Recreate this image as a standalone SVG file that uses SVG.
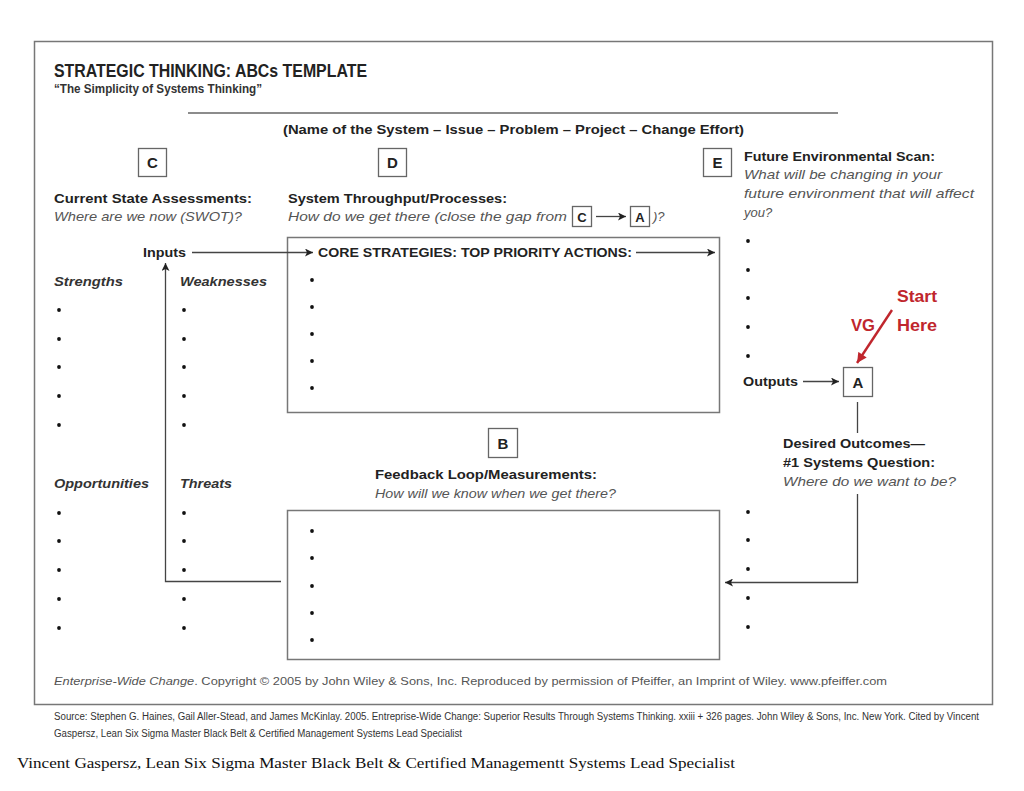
<svg xmlns="http://www.w3.org/2000/svg" width="1024" height="791" viewBox="0 0 1024 791">
<defs>
<marker id="ah" viewBox="0 0 10 10" refX="10" refY="5" markerWidth="10" markerHeight="8" markerUnits="userSpaceOnUse" orient="auto">
<path d="M0,0 L10,5 L0,10 L2.5,5 Z" fill="#222"/>
</marker>
<marker id="ahr" viewBox="0 0 10 10" refX="10" refY="5" markerWidth="11" markerHeight="10" markerUnits="userSpaceOnUse" orient="auto">
<path d="M0,0 L10,5 L0,10 Z" fill="#c0262d"/>
</marker>
<style>
text{font-family:"Liberation Sans",Arial,sans-serif;}
.b{font-weight:bold;fill:#222;font-size:13px;}
.i{font-style:italic;fill:#555;font-size:13px;}
.bi{font-style:italic;font-weight:bold;fill:#333;font-size:13px;}
.box{fill:#fff;stroke:#666;stroke-width:1.3;}
.lt{font-weight:bold;fill:#222;font-size:15px;text-anchor:middle;}
.ln{fill:none;stroke:#444;stroke-width:1.3;}
.bul{fill:#111;}
.red{fill:#c0262d;font-weight:bold;font-size:16px;}
</style>
</defs>
<rect width="1024" height="791" fill="#fff"/>
<rect x="34.5" y="41.5" width="958" height="663" fill="#fff" stroke="#777" stroke-width="1.5"/>

<g id="header">
<text x="54" y="77" font-size="18" font-weight="bold" fill="#222" textLength="313" lengthAdjust="spacingAndGlyphs">STRATEGIC THINKING: ABCs TEMPLATE</text>
<text x="54" y="93" font-size="12" font-weight="bold" fill="#333" textLength="208" lengthAdjust="spacingAndGlyphs">“The Simplicity of Systems Thinking”</text>
<line x1="188" y1="113" x2="838" y2="113" stroke="#666" stroke-width="1.3"/>
<text x="283" y="134" class="b" textLength="461" lengthAdjust="spacingAndGlyphs">(Name of the System – Issue – Problem – Project – Change Effort)</text>
</g>

<g id="nodeC">
<rect x="138.5" y="148.5" width="28" height="28" class="box"/>
<text x="152.5" y="168" class="lt">C</text>
<text x="54" y="203" class="b" textLength="198" lengthAdjust="spacingAndGlyphs">Current State Assessments:</text>
<text x="54" y="221" class="i" textLength="188" lengthAdjust="spacingAndGlyphs">Where are we now (SWOT)?</text>
</g>

<g id="nodeD">
<rect x="378.5" y="148.5" width="28" height="28" class="box"/>
<text x="392.5" y="168" class="lt">D</text>
<text x="288" y="203" class="b" textLength="219" lengthAdjust="spacingAndGlyphs">System Throughput/Processes:</text>
<text x="288" y="221" class="i" textLength="279" lengthAdjust="spacingAndGlyphs">How do we get there (close the gap from</text>
<rect x="572.5" y="206.5" width="19" height="20" class="box"/>
<text x="582" y="221.5" font-size="13" font-weight="bold" fill="#222" text-anchor="middle">C</text>
<line x1="596" y1="216.5" x2="626" y2="216.5" class="ln" marker-end="url(#ah)"/>
<rect x="630.5" y="206.5" width="19" height="20" class="box"/>
<text x="640" y="221.5" font-size="13" font-weight="bold" fill="#222" text-anchor="middle">A</text>
<text x="653" y="221" class="i">)?</text>
</g>

<g id="nodeE">
<rect x="703.5" y="148.5" width="28" height="28" class="box"/>
<text x="717.5" y="168" class="lt">E</text>
<text x="744" y="161" class="b" textLength="191" lengthAdjust="spacingAndGlyphs">Future Environmental Scan:</text>
<text x="744" y="179" class="i" textLength="198" lengthAdjust="spacingAndGlyphs">What will be changing in your</text>
<text x="744" y="198" class="i" textLength="230" lengthAdjust="spacingAndGlyphs">future environment that will affect</text>
<text x="744" y="217" class="i">you?</text>
<g class="bul">
<circle cx="748" cy="241" r="1.9"/><circle cx="748" cy="270" r="1.9"/><circle cx="748" cy="298" r="1.9"/><circle cx="748" cy="327" r="1.9"/><circle cx="748" cy="356" r="1.9"/>
<circle cx="748" cy="512" r="1.9"/><circle cx="748" cy="540" r="1.9"/><circle cx="748" cy="569" r="1.9"/><circle cx="748" cy="598" r="1.9"/><circle cx="748" cy="627" r="1.9"/>
</g>
</g>

<g id="swot">
<text x="54" y="286" class="bi" textLength="69" lengthAdjust="spacingAndGlyphs">Strengths</text>
<text x="180" y="286" class="bi" textLength="87" lengthAdjust="spacingAndGlyphs">Weaknesses</text>
<text x="54" y="488" class="bi" textLength="95" lengthAdjust="spacingAndGlyphs">Opportunities</text>
<text x="180" y="488" class="bi" textLength="52" lengthAdjust="spacingAndGlyphs">Threats</text>
<g class="bul">
<circle cx="59" cy="310" r="1.9"/><circle cx="59" cy="339" r="1.9"/><circle cx="59" cy="367" r="1.9"/><circle cx="59" cy="396" r="1.9"/><circle cx="59" cy="425" r="1.9"/>
<circle cx="184" cy="310" r="1.9"/><circle cx="184" cy="339" r="1.9"/><circle cx="184" cy="367" r="1.9"/><circle cx="184" cy="396" r="1.9"/><circle cx="184" cy="425" r="1.9"/>
<circle cx="59" cy="513" r="1.9"/><circle cx="59" cy="541" r="1.9"/><circle cx="59" cy="570" r="1.9"/><circle cx="59" cy="599" r="1.9"/><circle cx="59" cy="628" r="1.9"/>
<circle cx="184" cy="513" r="1.9"/><circle cx="184" cy="541" r="1.9"/><circle cx="184" cy="570" r="1.9"/><circle cx="184" cy="599" r="1.9"/><circle cx="184" cy="628" r="1.9"/>
</g>
</g>

<g id="inputs">
<text x="143" y="257" class="b" textLength="43" lengthAdjust="spacingAndGlyphs">Inputs</text>
</g>

<g id="core">
<rect x="287.5" y="237.5" width="432" height="175" fill="none" stroke="#777" stroke-width="1.5"/>
<text x="318" y="257" class="b" textLength="314" lengthAdjust="spacingAndGlyphs">CORE STRATEGIES: TOP PRIORITY ACTIONS:</text>
<g class="bul">
<circle cx="312" cy="280" r="1.9"/><circle cx="312" cy="307" r="1.9"/><circle cx="312" cy="334" r="1.9"/><circle cx="312" cy="361" r="1.9"/><circle cx="312" cy="388" r="1.9"/>
</g>
</g>

<g id="nodeB">
<rect x="488.5" y="428.5" width="29" height="29" class="box"/>
<text x="503" y="448.5" class="lt">B</text>
<text x="375" y="479" class="b" textLength="222" lengthAdjust="spacingAndGlyphs">Feedback Loop/Measurements:</text>
<text x="375" y="498" class="i" textLength="241" lengthAdjust="spacingAndGlyphs">How will we know when we get there?</text>
</g>

<g id="feedback">
<rect x="287.5" y="510.5" width="432" height="149" fill="none" stroke="#777" stroke-width="1.5"/>
<g class="bul">
<circle cx="312" cy="531" r="1.9"/><circle cx="312" cy="558" r="1.9"/><circle cx="312" cy="586" r="1.9"/><circle cx="312" cy="613" r="1.9"/><circle cx="312" cy="640" r="1.9"/>
</g>
</g>

<g id="nodeA">
<text x="743" y="386" class="b" textLength="55" lengthAdjust="spacingAndGlyphs">Outputs</text>
<rect x="843.5" y="367.5" width="29" height="29" class="box"/>
<text x="858" y="388" class="lt">A</text>
<text x="783" y="448" class="b" textLength="142" lengthAdjust="spacingAndGlyphs">Desired Outcomes—</text>
<text x="783" y="467" class="b" textLength="152" lengthAdjust="spacingAndGlyphs">#1 Systems Question:</text>
<text x="783" y="486" class="i" textLength="173" lengthAdjust="spacingAndGlyphs">Where do we want to be?</text>
</g>

<g id="annotation">
<text x="897" y="302" class="red" textLength="40" lengthAdjust="spacingAndGlyphs">Start</text>
<text x="897" y="331" class="red" textLength="40" lengthAdjust="spacingAndGlyphs">Here</text>
<text x="851" y="331" class="red" textLength="24" lengthAdjust="spacingAndGlyphs">VG</text>
<line x1="892" y1="310" x2="857" y2="363" stroke="#c0262d" stroke-width="2.4" marker-end="url(#ahr)"/>
</g>

<g id="connectors">
<line x1="192" y1="252.5" x2="313" y2="252.5" class="ln" marker-end="url(#ah)"/>
<line x1="636" y1="252.5" x2="715" y2="252.5" class="ln" marker-end="url(#ah)"/>
<polyline points="281,581.5 165.5,581.5 165.5,263" class="ln" marker-end="url(#ah)"/>
<line x1="803" y1="381.5" x2="839" y2="381.5" class="ln" marker-end="url(#ah)"/>
<line x1="857.5" y1="402" x2="857.5" y2="433" class="ln"/>
<polyline points="857.5,494 857.5,582.5 725,582.5" class="ln" marker-end="url(#ah)"/>
</g>

<g id="footer">
<text x="54" y="685" font-size="11.5" fill="#555" textLength="833" lengthAdjust="spacingAndGlyphs"><tspan font-style="italic">Enterprise-Wide Change</tspan>. Copyright © 2005 by John Wiley &amp; Sons, Inc. Reproduced by permission of Pfeiffer, an Imprint of Wiley. www.pfeiffer.com</text>
<text x="54" y="720" font-size="10" fill="#333" textLength="925" lengthAdjust="spacingAndGlyphs">Source: Stephen  G. Haines, Gail Aller-Stead, and James McKinlay. 2005. Entreprise-Wide Change: Superior Results Through Systems Thinking. xxiii + 326 pages. John  Wiley  &amp; Sons, Inc. New York. Cited by Vincent</text>
<text x="54" y="737" font-size="10" fill="#333" textLength="408" lengthAdjust="spacingAndGlyphs">Gaspersz, Lean Six Sigma Master Black Belt  &amp; Certified Management Systems Lead Specialist</text>
<text x="17" y="768" font-size="15" fill="#111" style="font-family:'Liberation Serif','Times New Roman',serif" textLength="718" lengthAdjust="spacingAndGlyphs">Vincent Gaspersz, Lean Six Sigma Master Black Belt &amp; Certified Managementt Systems Lead Specialist</text>
</g>
</svg>
